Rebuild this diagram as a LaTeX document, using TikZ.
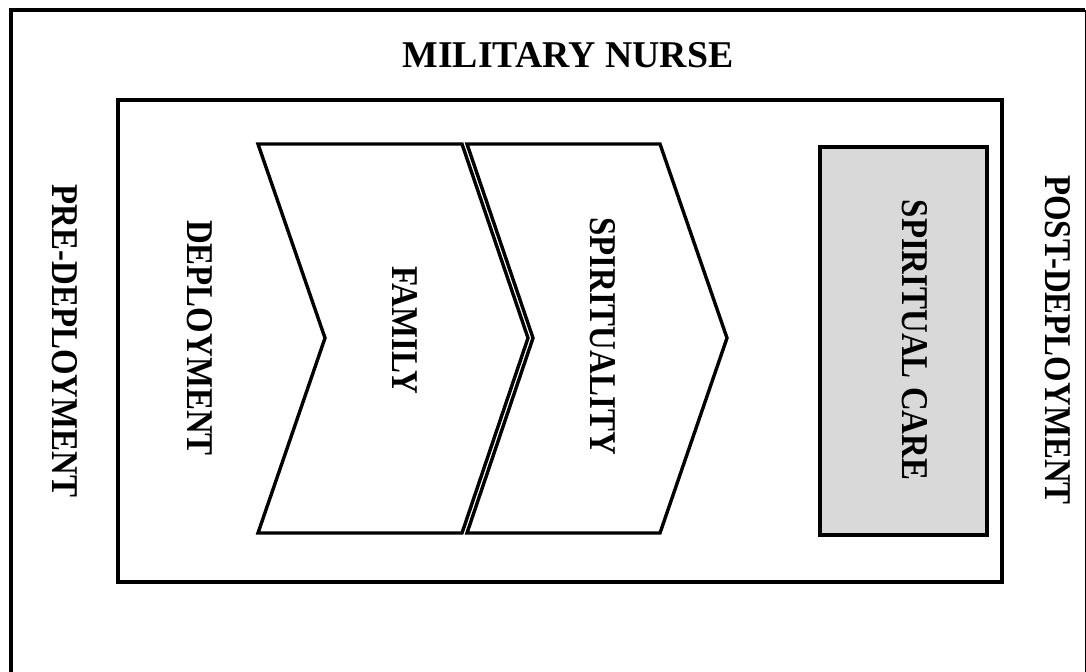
\documentclass[tikz,border=0pt]{standalone}
\usepackage{fontspec}
\setmainfont{Liberation Serif}
\newfontfamily\narrowfont[FakeStretch=0.87]{Liberation Serif}
\tikzset{
  lbl/.style={font=\fontsize{18.9}{22}\selectfont\bfseries, inner sep=0pt},
  vlbl/.style={font=\narrowfont\fontsize{18.9}{22}\selectfont\bfseries, inner sep=0pt, rotate=-90},
  frame/.style={black, line width=1.7pt},
}
\begin{document}
\begin{tikzpicture}[x=0.5pt, y=-0.5pt]
            \useasboundingbox (0,0) rectangle (1086,671);

            \draw[frame] (11,700) -- (11,10) -- (1085,10);
            \draw[black, line width=0.5pt] (1085,10) -- (1085,700);
            \draw[frame] (118,100) rectangle (1002,582);

            \draw[frame, fill=white] (258,144) -- (462,144) -- (528,338) -- (462,533)
            -- (258,533) -- (325,338) -- cycle;
            \draw[frame, fill=white] (467,144) -- (660,144) -- (727,338) -- (660,533)
            -- (467,533) -- (533,338) -- cycle;
            \draw[frame, fill=black!15] (820,147) rectangle (987,535);

            \node[lbl] (nurse) at (568,55) {MILITARY NURSE};
            \node[vlbl] (pre) at (65,341) {PRE-DEPLOYMENT};
            \node[vlbl] (depl) at (200,338) {DEPLOYMENT};
            \node[vlbl] (family) at (405,330) {FAMILY};
            \node[vlbl] (spirit) at (603,336) {SPIRITUALITY};
            \node[vlbl] (care) at (915,340) {SPIRITUAL CARE};
            \node[vlbl] (post) at (1058,340) {POST-DEPLOYMENT};
        \end{tikzpicture}
\end{document}
